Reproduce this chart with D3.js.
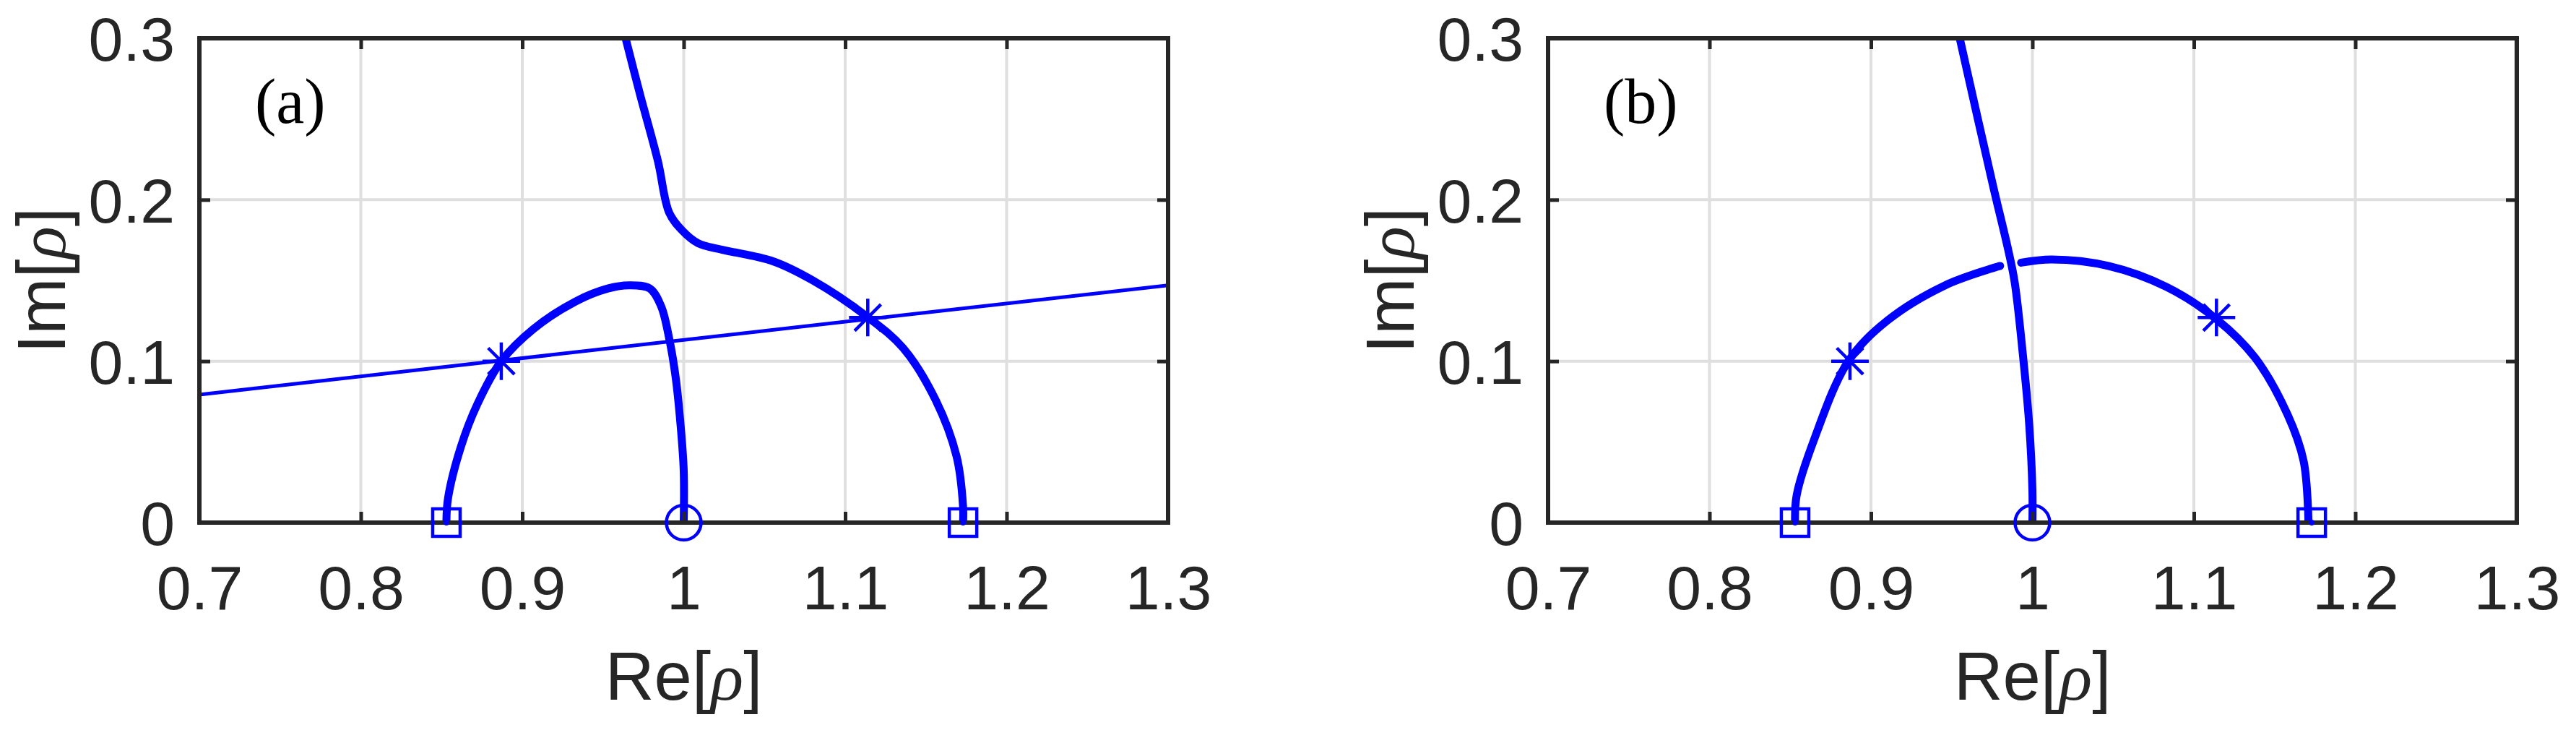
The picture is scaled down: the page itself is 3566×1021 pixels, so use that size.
<!DOCTYPE html>
<html><head><meta charset="utf-8">
<script src="https://cdn.jsdelivr.net/npm/d3@7"></script>
<style>body{margin:0;background:#fff}</style>
</head><body>
<svg id="fig" width="3566" height="1021"></svg>
<script>
// Data (Re, Im pairs)
const xTicks = [0.7, 0.8, 0.9, 1, 1.1, 1.2, 1.3];
const yTicks = [0, 0.1, 0.2, 0.3];

const aLeftArc = [[0.853,0],[0.854,0.015],[0.862,0.047],[0.872,0.073],[0.887,0.1],[0.907,0.12],[0.933,0.137],[0.953,0.145],[0.966,0.147],[0.979,0.145],[0.986,0.134],[0.991,0.114],[0.995,0.09],[0.998,0.061],[1.0,0.032],[1.0,0]];
const aRightArc = [[0.964,0.3],[0.973,0.265],[0.984,0.224],[0.991,0.192],[0.999,0.181],[1.009,0.173],[1.024,0.169],[1.055,0.162],[1.08,0.15],[1.113,0.128],[1.136,0.108],[1.156,0.076],[1.169,0.041],[1.173,0.01],[1.173,0]];
const aLine = [[0.7,0.0793],[1.3,0.147]];

const bVertical = [[0.955,0.3],[0.966,0.251],[0.976,0.207],[0.985,0.169],[0.989,0.149],[0.994,0.105],[0.998,0.061],[1.0,0.02],[1.0,0]];
const bArcLeft = [[0.853,0],[0.854,0.017],[0.865,0.052],[0.886,0.1],[0.91,0.125],[0.946,0.147],[0.98,0.159]];
const bArcRight = [[0.993,0.161],[1.012,0.163],[1.047,0.159],[1.083,0.146],[1.114,0.126],[1.138,0.102],[1.158,0.067],[1.168,0.038],[1.171,0]];

const stars = [[0.887,0.1],[1.114,0.127]];
const squares = [[0.853,0],[1.173,0]];
const circles = [[1.0,0]];

const panels = [
  {left: 276, label: "(a)", thick: [aLeftArc, aRightArc], thin: [aLine]},
  {left: 2143, label: "(b)", thick: [bVertical, bArcLeft, bArcRight], thin: []}
];
const W = 1341, H = 670, topY = 53;
const blue = "#0000ff", ink = "#262626";
const svg = d3.select("#fig");

panels.forEach(p => {
  const g = svg.append("g").attr("transform", `translate(${p.left},${topY})`);
  const x = d3.scaleLinear().domain([0.7, 1.3]).range([0, W]);
  const y = d3.scaleLinear().domain([0, 0.3]).range([H, 0]);

  // grid
  g.selectAll(".gx").data(xTicks.slice(1, -1)).enter().append("line")
    .attr("x1", d => x(d)).attr("x2", d => x(d)).attr("y1", 0).attr("y2", H)
    .attr("stroke", "#dfdfdf").attr("stroke-width", 4);
  g.selectAll(".gy").data(yTicks.slice(1, -1)).enter().append("line")
    .attr("y1", d => y(d)).attr("y2", d => y(d)).attr("x1", 0).attr("x2", W)
    .attr("stroke", "#dfdfdf").attr("stroke-width", 4);

  const clip = "clip" + p.label[1];
  g.append("clipPath").attr("id", clip).append("rect").attr("width", W).attr("height", H);
  const line = d3.line().x(d => x(d[0])).y(d => y(d[1])).curve(d3.curveCatmullRom);
  const plot = g.append("g").attr("clip-path", `url(#${clip})`);
  p.thin.forEach(s => plot.append("path").attr("d", line(s)).attr("fill", "none")
    .attr("stroke", blue).attr("stroke-width", 5));
  p.thick.forEach(s => plot.append("path").attr("d", line(s)).attr("fill", "none")
    .attr("stroke", blue).attr("stroke-width", 11).attr("stroke-linecap", "round"));

  // axes with inward ticks
  const ax = (axis, tr) => {
    const a = g.append("g").attr("transform", tr).call(axis);
    a.select(".domain").remove();
    a.selectAll("line").attr("stroke", ink).attr("stroke-width", 5);
    a.selectAll("text").attr("fill", ink).attr("font-family", "Liberation Sans, Arial")
      .attr("font-size", 86);
    return a;
  };
  ax(d3.axisBottom(x).tickValues(xTicks).tickSize(-15).tickPadding(0).tickFormat(d3.format("")), `translate(0,${H})`)
    .selectAll("text").attr("dy", 0).attr("y", 120);
  ax(d3.axisTop(x).tickValues(xTicks).tickSize(-15).tickFormat(""), "translate(0,0)");
  ax(d3.axisLeft(y).tickValues(yTicks).tickSize(-15).tickPadding(34).tickFormat(d3.format("")), "translate(0,0)")
    .selectAll("text").attr("dy", "0.36em");
  ax(d3.axisRight(y).tickValues(yTicks).tickSize(-15).tickFormat(""), `translate(${W},0)`);
  g.append("rect").attr("width", W).attr("height", H).attr("fill", "none")
    .attr("stroke", ink).attr("stroke-width", 6);

  // markers
  const mk = g.append("g").attr("stroke", blue).attr("fill", "none").attr("stroke-width", 4.5);
  stars.forEach(d => {
    const cx = x(d[0]), cy = y(d[1]), r = 26;
    mk.append("path").attr("d",
      `M${cx - r},${cy}H${cx + r}M${cx},${cy - r}V${cy + r}` +
      `M${cx - r * .7},${cy - r * .7}L${cx + r * .7},${cy + r * .7}M${cx - r * .7},${cy + r * .7}L${cx + r * .7},${cy - r * .7}`);
  });
  squares.forEach(d => {
    mk.append("rect").attr("x", x(d[0]) - 19).attr("y", y(d[1]) - 19).attr("width", 38).attr("height", 38);
    mk.append("circle").attr("cx", x(d[0])).attr("cy", y(d[1])).attr("r", 4).attr("fill", blue).attr("stroke", "none");
  });
  circles.forEach(d => {
    mk.append("circle").attr("cx", x(d[0])).attr("cy", y(d[1])).attr("r", 24);
  });

  // labels
  g.append("text").attr("x", 77).attr("y", 117).attr("font-family", "Liberation Serif, serif")
    .attr("font-size", 88).attr("fill", "#000").text(p.label);
  const xl = g.append("text").attr("x", W / 2).attr("y", 915).attr("text-anchor", "middle")
    .attr("font-family", "Liberation Sans, Arial").attr("font-size", 94).attr("fill", ink);
  xl.append("tspan").text("Re[");
  xl.append("tspan").attr("font-family", "Liberation Serif, serif").attr("font-style", "italic").text("ρ");
  xl.append("tspan").text("]");
  const yl = g.append("text").attr("transform", `translate(-186,${H / 2}) rotate(-90)`).attr("text-anchor", "middle")
    .attr("font-family", "Liberation Sans, Arial").attr("font-size", 94).attr("fill", ink);
  yl.append("tspan").text("Im[");
  yl.append("tspan").attr("font-family", "Liberation Serif, serif").attr("font-style", "italic").text("ρ");
  yl.append("tspan").text("]");
});
</script>
</body></html>
